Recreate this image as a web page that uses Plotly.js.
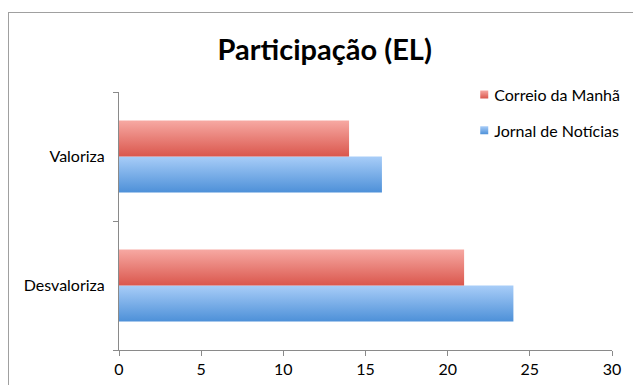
<!DOCTYPE html>
<html>
<head>
<meta charset="utf-8">
<script src="https://cdn.plot.ly/plotly-3.0.1.min.js"></script>
<style>
  html, body { margin: 0; padding: 0; background: #fff; }
  #wrap { position: relative; width: 633px; height: 385px; overflow: hidden; }
  #frame { position: absolute; left: 8px; top: 12px; width: 640px; height: 390px; border: 1px solid #a0a0a0; box-sizing: border-box; pointer-events: none; }
  #chart { position: absolute; left: 0; top: 0; width: 633px; height: 385px; }
</style>
</head>
<body>
<div id="wrap">
  <div id="chart"></div>
  <div id="frame"></div>
</div>
<script>
const categories = ["Desvaloriza", "Valoriza"];
const seriesNames = ["Jornal de Notícias", "Correio da Manhã"];
const jornalValues = [24, 16];
const correioValues = [21, 14];
const xTicks = [0, 5, 10, 15, 20, 25, 30];
const chartTitle = "Participação (EL)";

const font = "Lato, 'Open Sans', 'Liberation Sans', sans-serif";

const traces = [
  { type: "bar", orientation: "h", name: seriesNames[0], y: categories, x: jornalValues,
    marker: { color: "#78aeea", line: { width: 0 } }, legendgroup: "a", legendrank: 2, hoverinfo: "x+name" },
  { type: "bar", orientation: "h", name: seriesNames[1], y: categories, x: correioValues,
    marker: { color: "#e97a72", line: { width: 0 } }, legendgroup: "b", legendrank: 1, hoverinfo: "x+name" }
];

const layout = {
  width: 633, height: 385,
  margin: { l: 119, r: 21, t: 92, b: 35, autoexpand: false },
  paper_bgcolor: "#fff", plot_bgcolor: "#fff",
  title: { text: "<b>" + chartTitle + "</b>", x: 0.513, xanchor: "center", y: 0.87, yanchor: "middle",
           font: { family: font, size: 29, color: "#000" } },
  barmode: "group", bargap: 0.44, bargroupgap: 0,
  showlegend: true,
  legend: { x: 0.68, xanchor: "left", y: 1.056, yanchor: "top", xref: "paper", yref: "paper",
            traceorder: "grouped", tracegroupgap: 12, itemwidth: 30,
            font: { family: font, size: 16, color: "#000" }, bgcolor: "rgba(0,0,0,0)" },
  xaxis: { range: [0, 30], tickvals: xTicks, ticktext: xTicks.map(String), showgrid: false, zeroline: false,
           showline: true, linecolor: "#8a8a8a", linewidth: 1, ticks: "outside", ticklen: 5, tickcolor: "#8a8a8a",
           tickfont: { family: font, size: 16, color: "#000" }, fixedrange: true, automargin: false },
  yaxis: { type: "category", categoryorder: "array", categoryarray: categories, showgrid: false, zeroline: false,
           showline: true, linecolor: "#8a8a8a", linewidth: 1, ticks: "outside", ticklen: 5, tickcolor: "#8a8a8a",
           tickson: "boundaries", ticklabelstandoff: 10, automargin: false,
           tickfont: { family: font, size: 16, color: "#000" }, fixedrange: true }
};

Plotly.newPlot("chart", traces, layout, { displayModeBar: false, staticPlot: true }).then(function (gd) {
  const svg = gd.querySelector("svg.main-svg");
  const ns = "http://www.w3.org/2000/svg";
  let defs = svg.querySelector("defs");
  function grad(id, top, bottom) {
    const g = document.createElementNS(ns, "linearGradient");
    g.setAttribute("id", id); g.setAttribute("x1", "0"); g.setAttribute("y1", "0");
    g.setAttribute("x2", "0"); g.setAttribute("y2", "1");
    [[0, top], [1, bottom]].forEach(function (s) {
      const st = document.createElementNS(ns, "stop");
      st.setAttribute("offset", s[0]); st.setAttribute("stop-color", s[1]);
      g.appendChild(st);
    });
    defs.appendChild(g);
  }
  grad("gBlue", "#a8cdf8", "#4d90d8");
  grad("gRed", "#f7a9a3", "#da574d");
  const bars = gd.querySelectorAll(".barlayer .trace");
  const ids = ["gBlue", "gRed"];
  bars.forEach(function (t, i) {
    t.querySelectorAll("path").forEach(function (p) { p.style.fill = "url(#" + ids[i] + ")"; });
  });
  const legs = gd.querySelectorAll(".legend .traces");
  legs.forEach(function (t) {
    const txt = t.querySelector("text").textContent;
    const id = txt === seriesNames[0] ? "gBlue" : "gRed";
    t.querySelectorAll(".legendpoints path").forEach(function (p) {
      p.style.fill = "url(#" + id + ")";
      p.setAttribute("d", "M6,-4H14V4H6Z");
    });
  });
});
</script>
</body>
</html>
